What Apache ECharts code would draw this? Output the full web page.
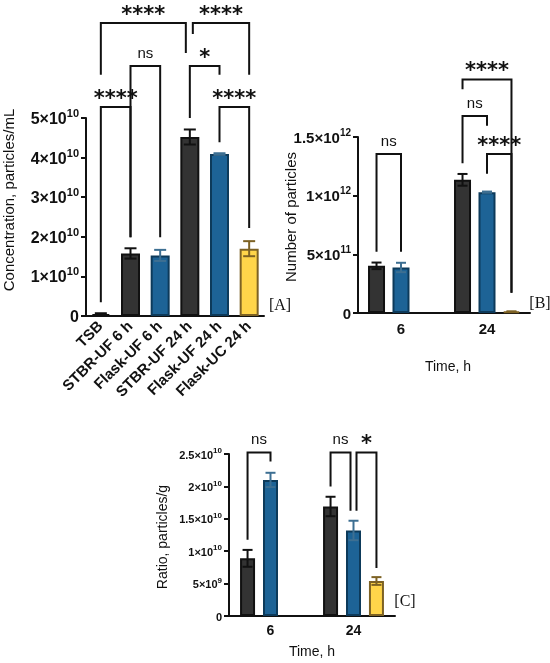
<!DOCTYPE html>
<html>
<head>
<meta charset="utf-8">
<script src="https://cdn.jsdelivr.net/npm/echarts@6/dist/echarts.min.js"></script>
<style>
  html, body { margin: 0; padding: 0; background: #fff; }
  #main { width: 550px; height: 663px; }
</style>
</head>
<body>
<div id="main"></div>
<script>
// panel A: concentration per sample
var catsA = ['TSB', 'STBR-UF 6 h', 'Flask-UF 6 h', 'STBR-UF 24 h', 'Flask-UF 24 h', 'Flask-UC 24 h'];
var kindA = ['stbr', 'stbr', 'flask', 'stbr', 'flask', 'uc'];
var meanA = [0.05e10, 1.58e10, 1.53e10, 4.52e10, 4.09e10, 1.70e10];
var errA = [0.02e10, 0.13e10, 0.14e10, 0.19e10, 0.02e10, 0.19e10];

// panel B: number of particles vs time
var timesB = ['6', '24'];
var stbrB = [4.02e11, 1.135e12];
var stbrErrB = [0.28e11, 0.5e11];
var flaskB = [3.88e11, 1.03e12];
var flaskErrB = [0.4e11, 0.05e11];
var ucB = [null, 0.012e12];
var ucErrB = [null, 0.002e12];

// panel C: ratio particles/g vs time
var timesC = ['6', '24'];
var stbrC = [0.89e10, 1.69e10];
var stbrErrC = [0.13e10, 0.15e10];
var flaskC = [2.10e10, 1.32e10];
var flaskErrC = [0.11e10, 0.15e10];
var ucC = [null, 0.54e10];
var ucErrC = [null, 0.06e10];

// significance brackets: from/to = [category, bar slot], y = bracket level, l/r = leg ends
var bracketsA = [
  { from: [0, 0], to: [3, 0], y: 7.40e10, l: 6.09e10, r: 6.64e10, t: '****', dr: -4 },
  { from: [3, 0], to: [5, 0], y: 7.40e10, l: 7.12e10, r: 6.09e10, t: '****', dl: 3 },
  { from: [1, 0], to: [2, 0], y: 6.31e10, l: 1.99e10, r: 1.99e10, t: 'ns' },
  { from: [3, 0], to: [4, 0], y: 6.31e10, l: 5.0e10, r: 6.09e10, t: '*' },
  { from: [0, 0], to: [1, 0], y: 5.28e10, l: 0.35e10, r: 1.99e10, t: '****' },
  { from: [4, 0], to: [5, 0], y: 5.28e10, l: 4.39e10, r: 2.22e10, t: '****' }
];
var bracketsB = [
  { from: [0, 0], to: [0, 1], y: 1.356e12, l: 0.522e12, r: 0.522e12, t: 'ns' },
  { from: [1, 0], to: [1, 1], y: 1.68e12, l: 1.276e12, r: 1.596e12, t: 'ns' },
  { from: [1, 0], to: [1, 2], y: 1.99e12, l: 1.907e12, r: 0.172e12, t: '****' },
  { from: [1, 1], to: [1, 2], y: 1.356e12, l: 1.186e12, r: 0.172e12, t: '****' }
];
var bracketsC = [
  { from: [0, 0], to: [0, 1], y: 2.524e10, l: 1.175e10, r: 2.385e10, t: 'ns' },
  { from: [1, 0], to: [1, 1], y: 2.524e10, l: 1.998e10, r: 1.623e10, t: 'ns', dr: -3 },
  { from: [1, 1], to: [1, 2], y: 2.524e10, l: 1.623e10, r: 0.742e10, t: '*', dl: 3 }
];

var FONT = '"Liberation Sans", Arial, sans-serif';
var INK = '#111';
var fill = { stbr: '#333333', flask: '#1d6396', uc: '#ffd54a' };
var edge = { stbr: '#111111', flask: '#0d3a5a', uc: '#7d6224' };
var whisker = { stbr: '#111111', flask: '#3d6f92', uc: '#7d6224' };

// bar layout per grid (barWidth, gap ratio, slots per category, whisker cap half width)
var layout = [
  { w: 19, gap: 0, n: 1, cap: 6 },
  { w: 17, gap: 0.44, n: 3, cap: 5 },
  { w: 15, gap: 0.53, n: 3, cap: 5 }
];
function slotOffset(g, slot) {
  var L = layout[g];
  return (slot - (L.n - 1) / 2) * L.w * (1 + L.gap);
}

function sci(v) {
  if (v === 0) return '{b|0}';
  var e = Math.floor(Math.log10(v) + 1e-9);
  var m = +(v / Math.pow(10, e)).toFixed(2);
  return '{b|' + m + '×10}{s|' + e + '}';
}

function xAxisOf(g, data, extra) {
  var ax = {
    type: 'category', gridIndex: g, data: data,
    axisLine: { lineStyle: { color: INK, width: 2 } },
    axisTick: { alignWithLabel: true, length: 6, lineStyle: { color: INK, width: 2 } },
    axisLabel: { color: INK, fontFamily: FONT, fontWeight: 'bold', fontSize: 15, margin: 9 }
  };
  if (extra) Object.assign(ax.axisLabel, extra);
  return ax;
}
function yAxisOf(g, max, step, size, supSize) {
  return {
    type: 'value', gridIndex: g, min: 0, max: max, interval: step,
    splitLine: { show: false },
    axisLine: { show: true, lineStyle: { color: INK, width: 2 } },
    axisTick: { show: true, length: 5, lineStyle: { color: INK, width: 2 } },
    axisLabel: {
      formatter: sci, margin: 7,
      rich: {
        b: { color: INK, fontFamily: FONT, fontWeight: 'bold', fontSize: size, lineHeight: size + 3, verticalAlign: 'bottom' },
        s: { color: INK, fontFamily: FONT, fontWeight: 'bold', fontSize: supSize, lineHeight: size + 3, verticalAlign: 'top' }
      }
    }
  };
}

function barSeries(g, values, kind) {
  return {
    type: 'bar', xAxisIndex: g, yAxisIndex: g,
    barWidth: layout[g].w, barGap: (layout[g].gap * 100) + '%',
    data: values.map(function (v) { return v == null ? '-' : v; }),
    itemStyle: { color: fill[kind], borderColor: edge[kind], borderWidth: 2 }
  };
}

function errSeries(g, slot, values, errs, kinds) {
  var data = [];
  values.forEach(function (v, i) {
    if (v != null) data.push([i, v, errs[i], i]);
  });
  return {
    type: 'custom', xAxisIndex: g, yAxisIndex: g, clip: false, silent: true, z: 4,
    data: data,
    encode: { x: 0, y: 1 },
    renderItem: function (params, api) {
      var c = api.value(0), m = api.value(1), e = api.value(2);
      var kind = Array.isArray(kinds) ? kinds[api.value(3)] : kinds;
      var x = api.coord([c, m])[0] + slotOffset(g, slot);
      var yt = api.coord([c, m + e])[1];
      var yb = api.coord([c, m - e])[1];
      var cap = layout[g].cap;
      var st = { stroke: whisker[kind], lineWidth: 2 };
      return {
        type: 'group', children: [
          { type: 'line', shape: { x1: x, y1: yt, x2: x, y2: yb }, style: st },
          { type: 'line', shape: { x1: x - cap, y1: yt, x2: x + cap, y2: yt }, style: st },
          { type: 'line', shape: { x1: x - cap, y1: yb, x2: x + cap, y2: yb }, style: st }
        ]
      };
    }
  };
}

function bracketSeries(g, list) {
  return {
    type: 'custom', xAxisIndex: g, yAxisIndex: g, clip: false, silent: true, z: 6,
    data: list.map(function (b) { return [b.from[0], b.y]; }),
    encode: { x: 0, y: 1 },
    renderItem: function (params, api) {
      var b = list[params.dataIndex];
      var xl = api.coord([b.from[0], 0])[0] + slotOffset(g, b.from[1]) + (b.dl || 0);
      var xr = api.coord([b.to[0], 0])[0] + slotOffset(g, b.to[1]) + (b.dr || 0);
      var yTop = api.coord([0, b.y])[1];
      var yl = api.coord([0, b.l])[1];
      var yr = api.coord([0, b.r])[1];
      var star = b.t.charAt(0) === '*';
      return {
        type: 'group', children: [
          {
            type: 'polyline',
            shape: { points: [[xl, yl], [xl, yTop], [xr, yTop], [xr, yr]] },
            style: { stroke: INK, lineWidth: 2, fill: null }
          },
          {
            type: 'text', x: (xl + xr) / 2, y: star ? yTop + 3 : yTop - 5,
            style: {
              text: b.t, align: 'center', verticalAlign: 'bottom', fill: INK,
              font: star ? 'bold 21px "DejaVu Sans", sans-serif' : '15px ' + FONT
            }
          }
        ]
      };
    }
  };
}

function label(text, x, y, rot, font) {
  return {
    type: 'text', x: x, y: y, rotation: rot || 0,
    style: { text: text, align: 'center', verticalAlign: 'middle', fill: INK, font: font || ('15px ' + FONT) }
  };
}

var chart = echarts.init(document.getElementById('main'));
chart.setOption({
  backgroundColor: '#fff',
  animation: false,
  grid: [
    { left: 86, top: 118, width: 178, height: 198 },
    { left: 358, top: 137, width: 172, height: 176 },
    { left: 229, top: 454, width: 166, height: 162 }
  ],
  xAxis: [
    xAxisOf(0, catsA, { rotate: 45, margin: 8 }),
    xAxisOf(1, timesB),
    xAxisOf(2, timesC, { fontSize: 14, margin: 8 })
  ],
  yAxis: [
    yAxisOf(0, 5e10, 1e10, 16, 11),
    yAxisOf(1, 1.5e12, 5e11, 15, 10),
    yAxisOf(2, 2.5e10, 5e9, 11, 8)
  ],
  series: [
    {
      type: 'bar', xAxisIndex: 0, yAxisIndex: 0, barWidth: layout[0].w,
      data: meanA.map(function (v, i) {
        return { value: v, itemStyle: { color: fill[kindA[i]], borderColor: edge[kindA[i]], borderWidth: 2 } };
      })
    },
    errSeries(0, 0, meanA, errA, kindA),
    bracketSeries(0, bracketsA),

    barSeries(1, stbrB, 'stbr'),
    barSeries(1, flaskB, 'flask'),
    barSeries(1, ucB, 'uc'),
    errSeries(1, 0, stbrB, stbrErrB, 'stbr'),
    errSeries(1, 1, flaskB, flaskErrB, 'flask'),
    errSeries(1, 2, ucB, ucErrB, 'uc'),
    bracketSeries(1, bracketsB),

    barSeries(2, stbrC, 'stbr'),
    barSeries(2, flaskC, 'flask'),
    barSeries(2, ucC, 'uc'),
    errSeries(2, 0, stbrC, stbrErrC, 'stbr'),
    errSeries(2, 1, flaskC, flaskErrC, 'flask'),
    errSeries(2, 2, ucC, ucErrC, 'uc'),
    bracketSeries(2, bracketsC)
  ],
  graphic: [
    label('Concentration, particles/mL', 10, 200, Math.PI / 2),
    label('Number of particles', 292, 217, Math.PI / 2),
    label('Ratio, particles/g', 163, 537, Math.PI / 2, '14px ' + FONT),
    label('Time, h', 448, 367, 0, '14px ' + FONT),
    label('Time, h', 312, 652, 0, '14px ' + FONT),
    label('[A]', 280, 306, 0, '16px "Liberation Serif", serif'),
    label('[B]', 540, 304, 0, '16px "Liberation Serif", serif'),
    label('[C]', 405, 602, 0, '16px "Liberation Serif", serif')
  ]
});
</script>
</body>
</html>
